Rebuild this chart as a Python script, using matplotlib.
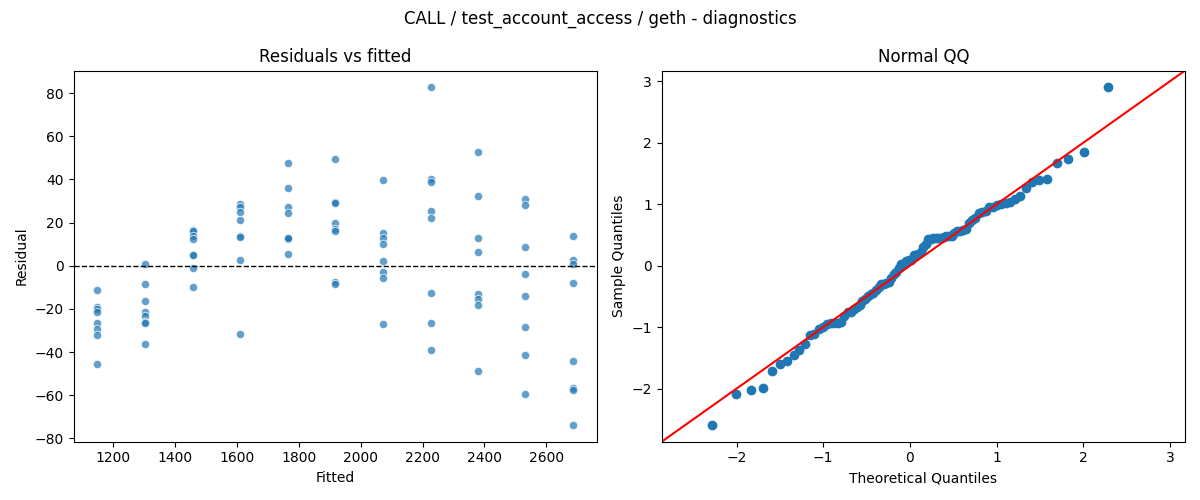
import numpy as np
import matplotlib
matplotlib.use("Agg")
import matplotlib.pyplot as plt
from statistics import NormalDist

# fitted value of each group (x positions of the residual columns)
fitted_levels = [1148, 1302, 1456, 1610, 1764, 1918, 2072, 2226, 2380, 2533, 2687]

# residuals, one list per fitted level
residual_groups = [
    [-11.1, -19.1, -20.0, -21.3, -26.5, -29.3, -32.1, -45.3],
    [0.6, -8.3, -16.3, -21.3, -23.4, -26.2, -26.5, -36.1],
    [16.6, 16.0, 13.6, 12.3, 5.2, 4.9, -1.2, -9.9],
    [28.7, 27.1, 24.7, 21.3, 13.6, 13.3, 2.8, -31.4],
    [47.5, 35.9, 27.4, 24.4, 12.9, 12.6, 12.8, 5.5],
    [49.3, 29.6, 29.3, 19.7, 17.0, 16.0, -7.4, -8.6],
    [39.8, 15.4, 12.9, 10.2, 2.2, -3.1, -5.5, -26.8],
    [82.6, 40.4, 38.8, 25.3, 22.2, -12.6, -26.5, -38.8],
    [52.7, 32.4, 12.9, 6.5, -12.9, -15.4, -18.2, -48.7],
    [31.1, 28.0, 8.6, -3.7, -13.9, -28.4, -41.3, -59.2],
    [13.9, 2.5, 0.6, -8.0, -44.1, -56.4, -57.7, -73.7],
]

title = "CALL / test_account_access / geth - diagnostics"

fitted = np.concatenate([[f] * len(g) for f, g in zip(fitted_levels, residual_groups)])
resid = np.concatenate([np.array(g) for g in residual_groups])

fig, (ax1, ax2) = plt.subplots(1, 2, figsize=(12, 5), dpi=100)

# Residuals vs fitted
ax1.scatter(fitted, resid, s=36, color="#1f77b4", alpha=0.7, edgecolors="white", linewidths=0.75)
ax1.axhline(0, color="black", linestyle="--", linewidth=1)
ax1.set_title("Residuals vs fitted")
ax1.set_xlabel("Fitted")
ax1.set_ylabel("Residual")
ax1.set_yticks(np.arange(-80, 81, 20))

# Normal QQ of standardised residuals
n = len(resid)
sample_q = np.sort((resid - resid.mean()) / resid.std())
probs = np.arange(1, n + 1) / (n + 1)
theo_q = np.array([NormalDist().inv_cdf(p) for p in probs])
ax2.plot(theo_q, sample_q, "o", color="#1f77b4", markersize=6)
xlim, ylim = ax2.get_xlim(), ax2.get_ylim()
lo, hi = min(xlim[0], ylim[0]), max(xlim[1], ylim[1])
ax2.plot([lo, hi], [lo, hi], color="red", linewidth=1.5)
ax2.set_xlim(lo, hi)
ax2.set_ylim(lo, hi)
ax2.set_title("Normal QQ")
ax2.set_xlabel("Theoretical Quantiles")
ax2.set_ylabel("Sample Quantiles")

fig.suptitle(title)
fig.tight_layout()
fig.savefig("out.png")
